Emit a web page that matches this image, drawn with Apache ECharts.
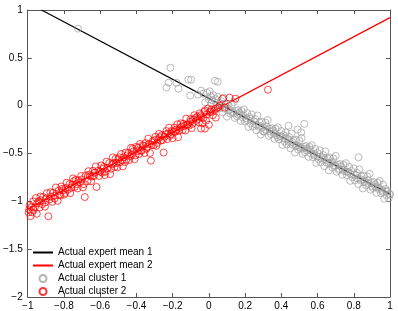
<!DOCTYPE html>
<html>
<head>
<meta charset="utf-8">
<script src="https://cdn.jsdelivr.net/npm/echarts@6/dist/echarts.min.js"></script>
<style>html,body{margin:0;padding:0;background:#fff}#c{width:398px;height:311px}</style>
</head>
<body>
<div id="c"></div>
<script>
var xTicks = [-1,-0.8,-0.6,-0.4,-0.2,0,0.2,0.4,0.6,0.8,1];
var yTicks = [-2,-1.5,-1,-0.5,0,0.5,1];
var seriesNames = ['Actual expert mean 1','Actual expert mean 2','Actual cluster 1','Actual cluster 2'];
var expertMean1 = [[-0.924,1.0],[1.0,-0.925]];
var expertMean2 = [[-1.0,-1.08],[1.0,0.92]];
var cluster1 = [
[-0.723,0.805],[-0.212,0.397],[-0.234,0.188],[-0.223,0.24],[-0.179,0.24],[-0.168,0.178],[-0.114,0.272],[-0.098,0.272],[-0.103,0.105],[-0.06,0.115],[-0.043,0.157],[0.033,0.26],[0.049,0.25],
[-0.03,0.125],[-0.02,0.035],[-0.01,0.135],[0.0,0.065],[0.005,0.15],[0.012,0.023],[0.018,0.057],[0.025,0.11],[0.03,-0.035],[0.037,0.068],[0.043,0.002],[0.05,0.095],[0.056,-0.031],[0.062,0.023],[0.068,0.047],[0.075,-0.07],[0.081,0.084],[0.087,-0.032],[0.093,0.012],[0.1,-0.115],[0.106,0.019],[0.112,-0.037],[0.118,-0.083],[0.125,0.01],[0.131,-0.066],[0.137,0.038],[0.143,-0.128],[0.15,-0.055],[0.156,-0.111],[0.162,-0.047],[0.168,-0.073],[0.175,-0.16],[0.181,-0.056],[0.187,-0.122],[0.193,-0.038],[0.2,-0.165],[0.206,-0.131],[0.212,-0.077],[0.218,-0.223],[0.225,-0.12],[0.231,-0.186],[0.237,-0.092],[0.243,-0.218],[0.25,-0.165],[0.256,-0.141],[0.262,-0.257],[0.268,-0.103],[0.275,-0.22],[0.281,-0.176],[0.287,-0.302],[0.293,-0.168],[0.3,-0.225],[0.306,-0.271],[0.312,-0.177],[0.318,-0.253],[0.325,-0.15],[0.331,-0.316],[0.337,-0.242],[0.343,-0.298],[0.35,-0.235],[0.356,-0.261],[0.362,-0.347],[0.368,-0.243],[0.375,-0.31],[0.381,-0.226],[0.387,-0.352],[0.393,-0.318],[0.4,-0.265],[0.406,-0.411],[0.412,-0.307],[0.418,-0.373],[0.425,-0.28],[0.431,-0.406],[0.437,-0.352],[0.443,-0.328],[0.45,-0.445],[0.456,-0.291],[0.462,-0.407],[0.468,-0.363],[0.475,-0.49],[0.481,-0.356],[0.487,-0.412],[0.493,-0.458],[0.5,-0.365],[0.506,-0.441],[0.512,-0.337],[0.518,-0.503],[0.525,-0.43],[0.531,-0.486],[0.537,-0.422],[0.543,-0.448],[0.55,-0.535],[0.556,-0.431],[0.562,-0.497],[0.568,-0.413],[0.575,-0.54],[0.581,-0.506],[0.587,-0.452],[0.593,-0.598],[0.6,-0.495],[0.606,-0.561],[0.612,-0.467],[0.618,-0.593],[0.625,-0.54],[0.631,-0.516],[0.637,-0.632],[0.643,-0.478],[0.65,-0.595],[0.656,-0.551],[0.662,-0.677],[0.668,-0.543],[0.675,-0.6],[0.681,-0.646],[0.687,-0.552],[0.693,-0.628],[0.7,-0.525],[0.706,-0.691],[0.712,-0.617],[0.718,-0.673],[0.725,-0.61],[0.731,-0.636],[0.737,-0.722],[0.743,-0.618],[0.75,-0.685],[0.756,-0.601],[0.762,-0.727],[0.768,-0.693],[0.775,-0.64],[0.781,-0.786],[0.787,-0.682],[0.793,-0.748],[0.8,-0.655],[0.806,-0.781],[0.812,-0.727],[0.818,-0.703],[0.825,-0.82],[0.831,-0.666],[0.837,-0.782],[0.843,-0.738],[0.85,-0.865],[0.856,-0.731],[0.862,-0.787],[0.868,-0.833],[0.875,-0.74],[0.881,-0.816],[0.887,-0.712],[0.893,-0.878],[0.9,-0.805],[0.906,-0.861],[0.912,-0.797],[0.918,-0.823],[0.925,-0.91],[0.931,-0.806],[0.937,-0.872],[0.943,-0.788],[0.95,-0.915],[0.956,-0.881],[0.962,-0.827],[0.968,-0.973],[0.975,-0.87],[0.981,-0.936],[0.987,-0.892],[0.993,-0.968],[0.998,-0.923],
[0.826,-0.54],[0.527,-0.19],[0.44,-0.21],[0.51,-0.28],[0.49,-0.25],
[0.01,0.1],[0.04,0.03],[0.07,0.0],[0.09,0.02],[0.11,-0.05],[0.14,-0.08],[0.16,-0.09],[0.19,-0.1],[0.21,-0.15],[0.23,-0.14],[0.26,-0.2],[0.28,-0.21],[0.3,-0.27],[0.32,-0.22],[0.34,-0.27],[0.36,-0.29],[0.38,-0.33],[0.4,-0.32],[0.42,-0.34],[0.44,-0.37],[0.46,-0.38],[0.48,-0.42],[0.5,-0.43],[0.52,-0.45],[0.54,-0.47],[0.56,-0.46],[0.58,-0.52],[0.6,-0.53],[0.62,-0.55],[0.64,-0.56],[0.66,-0.6],[0.68,-0.59],[0.7,-0.63],[0.72,-0.66],[0.74,-0.67],[0.76,-0.69],[0.78,-0.71],[0.8,-0.72],[0.82,-0.76],[0.84,-0.77],[0.86,-0.8],[0.88,-0.78],[0.9,-0.84],[0.92,-0.85],[0.94,-0.86],[0.96,-0.9],[0.98,-0.9],[1.0,-0.93]
];
var cluster2 = [
[-0.995,-1.115],[-0.99,-1.04],[-0.985,-1.155],[-0.98,-1.06],[-0.975,-1.115],[-0.97,-1.0],[-0.96,-1.06],[-0.955,-0.965],[-0.95,-1.13],[-0.94,-1.0],[-0.935,-1.065],[-0.93,-0.95],[-0.92,-1.03],[-0.915,-0.955],[-0.905,-1.055],[-0.9,-0.97],[-0.895,-0.915],[-0.886,-1.156],[-0.88,-0.98],[-0.875,-0.905],[-0.865,-1.005],[-0.86,-0.91],[-0.85,-0.94],[-0.845,-0.855],[-0.835,-0.995],[-0.83,-0.89],[-0.82,-0.94],[-0.815,-0.845],[-0.805,-0.885],[-0.8,-0.93],[-0.793,-0.913],[-0.785,-0.805],[-0.78,-0.88],[-0.77,-0.82],[-0.765,-0.915],[-0.755,-0.825],[-0.75,-0.76],[-0.74,-0.85],[-0.735,-0.775],[-0.725,-0.865],[-0.72,-0.78],[-0.71,-0.8],[-0.705,-0.735],[-0.695,-0.855],[-0.685,-0.955],[-0.68,-0.73],[-0.67,-0.79],[-0.665,-0.685],[-0.655,-0.735],[-0.65,-0.79],[-0.64,-0.68],[-0.635,-0.735],[-0.625,-0.635],[-0.62,-0.85],[-0.61,-0.68],[-0.605,-0.735],[-0.595,-0.625],[-0.59,-0.7],[-0.58,-0.64],[-0.575,-0.725],[-0.565,-0.585],[-0.56,-0.65],[-0.55,-0.6],[-0.545,-0.715],[-0.535,-0.615],[-0.53,-0.54],[-0.52,-0.64],[-0.515,-0.555],[-0.505,-0.645],[-0.5,-0.56],[-0.49,-0.59],[-0.485,-0.505],[-0.475,-0.635],[-0.47,-0.54],[-0.46,-0.49],[-0.455,-0.565],[-0.445,-0.495],[-0.44,-0.57],[-0.43,-0.44],[-0.425,-0.515],[-0.415,-0.475],[-0.41,-0.56],[-0.4,-0.43],[-0.395,-0.475],[-0.385,-0.505],[-0.38,-0.4],[-0.37,-0.47],[-0.365,-0.415],[-0.355,-0.495],[-0.35,-0.39],[-0.34,-0.43],[-0.335,-0.345],[-0.325,-0.495],[-0.32,-0.575],[-0.31,-0.37],[-0.305,-0.415],[-0.295,-0.325],[-0.29,-0.42],[-0.28,-0.35],[-0.275,-0.295],[-0.265,-0.365],[-0.26,-0.31],[-0.25,-0.49],[-0.245,-0.325],[-0.235,-0.265],[-0.23,-0.35],[-0.22,-0.23],[-0.215,-0.315],[-0.205,-0.265],[-0.2,-0.34],[-0.19,-0.23],[-0.185,-0.275],[-0.175,-0.195],[-0.17,-0.33],[-0.16,-0.23],[-0.155,-0.185],[-0.145,-0.255],[-0.14,-0.19],[-0.13,-0.26],[-0.125,-0.135],[-0.115,-0.195],[-0.11,-0.21],[-0.1,-0.14],[-0.095,-0.235],[-0.085,-0.145],[-0.08,-0.1],[-0.07,-0.16],[-0.065,-0.115],[-0.055,-0.175],[-0.05,-0.08],[-0.04,-0.12],[-0.035,-0.185],[-0.025,-0.065],
[-0.022,-0.05],[-0.016,-0.157],[-0.022,-0.24],[-0.043,-0.24],[0.022,-0.1],[0.038,-0.125],[0.087,-0.02],[0.076,0.073],[0.114,0.084],[0.147,0.073],[0.326,0.167],[-0.005,-0.03],[0.01,-0.06],[0.05,-0.02],[0.0,-0.2],[0.03,-0.05],
[-0.992,-1.085],[-0.968,-1.09],[-0.948,-1.02],[-0.926,-0.99],[-0.902,-1.01],[-0.872,-0.95],[-0.852,-0.97],[-0.826,-0.93],[-0.81,-0.87],[-0.79,-0.86],[-0.76,-0.86],[-0.745,-0.79],[-0.73,-0.82],[-0.7,-0.77],[-0.69,-0.82],[-0.66,-0.72],[-0.645,-0.74],[-0.63,-0.7],[-0.6,-0.69],[-0.585,-0.66],[-0.57,-0.69],[-0.54,-0.66],[-0.525,-0.6],[-0.51,-0.6],[-0.495,-0.54],[-0.48,-0.57],[-0.465,-0.59],[-0.45,-0.52],[-0.435,-0.53],[-0.42,-0.45],[-0.405,-0.52],[-0.39,-0.44],[-0.375,-0.47],[-0.36,-0.42],[-0.345,-0.45],[-0.33,-0.4],[-0.315,-0.41],[-0.3,-0.36],[-0.285,-0.39],[-0.27,-0.33],[-0.255,-0.36],[-0.24,-0.3],[-0.225,-0.29],[-0.21,-0.3],[-0.195,-0.27],[-0.18,-0.25],[-0.165,-0.26],[-0.15,-0.22],[-0.135,-0.21],[-0.12,-0.2],[-0.105,-0.17],[-0.09,-0.19],[-0.075,-0.13],[-0.06,-0.14],[-0.045,-0.1],[-0.03,-0.13],[-0.01,-0.09],[0.005,-0.07],[0.015,-0.04],[0.04,-0.03],[0.06,0.0]
];

function fmt(v){ var s = String(parseFloat(Number(v).toFixed(2))); return s.replace('-', '\u2212'); }
var axisColor = '#555';
var font = 'Liberation Sans, Arial, Helvetica, sans-serif';
var chart = echarts.init(document.getElementById('c'), null, {renderer:'canvas'});
function axisBase(min, max, interval){
  return {type:'value', min:min, max:max, interval:interval, splitLine:{show:false},
    axisLine:{show:true, onZero:false, lineStyle:{color:axisColor, width:1}},
    axisTick:{show:true, inside:true, length:4, lineStyle:{color:axisColor}}};
}
var labelStyle = {color:'#000', fontSize:10, fontFamily:font, formatter:fmt, showMinLabel:true, showMaxLabel:true};
chart.setOption({
  animation:false,
  backgroundColor:'#fff',
  grid:{left:22, right:8, top:10, bottom:14, containLabel:false},
  xAxis:[
    Object.assign(axisBase(xTicks[0], xTicks[xTicks.length-1], 0.2), {position:'bottom', axisLabel:Object.assign({show:true, margin:4}, labelStyle)}),
    Object.assign(axisBase(xTicks[0], xTicks[xTicks.length-1], 0.2), {position:'top', axisLabel:{show:false}})
  ],
  yAxis:[
    Object.assign(axisBase(yTicks[0], yTicks[yTicks.length-1], 0.5), {position:'left', axisLabel:Object.assign({show:true, margin:5}, labelStyle)}),
    Object.assign(axisBase(yTicks[0], yTicks[yTicks.length-1], 0.5), {position:'right', axisLabel:{show:false}})
  ],
  legend:{
    show:true, orient:'vertical', left:32, top:247, padding:0, itemWidth:20, itemHeight:7, itemGap:2,
    textStyle:{color:'#000', fontSize:10, fontFamily:font, lineHeight:11},
    data:[
      {name:seriesNames[0], itemStyle:{color:'rgba(0,0,0,0)', borderWidth:0, opacity:0}},
      {name:seriesNames[1], itemStyle:{color:'rgba(0,0,0,0)', borderWidth:0, opacity:0}},
      {name:seriesNames[2]},
      {name:seriesNames[3]}
    ]
  },
  series:[
    {name:seriesNames[0], type:'line', data:expertMean1, symbol:'none', lineStyle:{color:'#000', width:1.3}, itemStyle:{color:'#000'}, z:2},
    {name:seriesNames[1], type:'line', data:expertMean2, symbol:'none', lineStyle:{color:'#ff0000', width:1.3}, itemStyle:{color:'#ff0000'}, z:2},
    {name:seriesNames[2], type:'scatter', data:cluster1, symbol:'circle', symbolSize:7, itemStyle:{color:'rgba(0,0,0,0)', borderColor:'#a0a0a0', borderWidth:0.9}, z:3},
    {name:seriesNames[3], type:'scatter', data:cluster2, symbol:'circle', symbolSize:7, itemStyle:{color:'rgba(0,0,0,0)', borderColor:'#ff0000', borderWidth:0.9}, z:4}
  ]
});
</script>
</body>
</html>
